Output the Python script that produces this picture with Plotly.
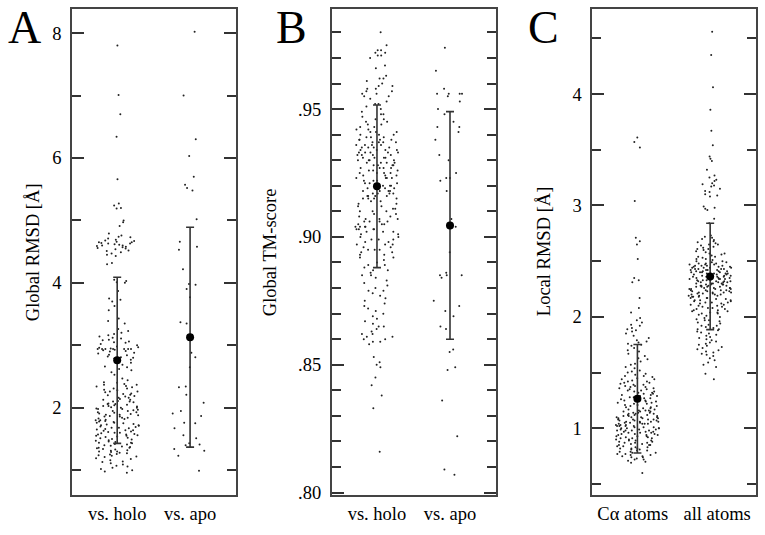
import plotly.graph_objects as go

# ---- data ----
cats_a = ["vs. holo", "vs. apo"]
cats_b = ["vs. holo", "vs. apo"]
cats_c = ["C\u03b1 atoms", "all atoms"]

rmsd_holo = [
    7.80, 7.01, 6.70, 6.34, 5.66, 5.27, 5.24, 5.20, 5.19, 5.00, 4.97, 4.91,
    4.79, 4.76, 4.74, 4.73, 4.71, 4.69, 4.68, 4.67, 4.66, 4.65, 4.65, 4.64, 4.63, 4.63, 4.62,
    4.61, 4.60, 4.60, 4.59, 4.58, 4.57, 4.56, 4.55, 4.54, 4.52, 4.51, 4.49, 4.47, 4.45, 4.43,
    4.32, 4.30, 4.05, 4.03, 4.01, 4.00, 3.87, 3.75, 3.73, 3.70, 3.63, 3.56, 3.43, 3.39, 3.35,
    3.26, 3.23, 3.20, 3.12, 3.09, 3.06, 3.04, 3.18, 3.16, 3.14, 3.11, 3.08, 3.05, 3.02, 3.00,
    2.98, 2.97, 2.96, 2.95, 2.94, 2.94, 2.94, 2.94, 2.94, 2.94, 2.94, 2.93, 2.92, 2.91, 2.90,
    2.88, 2.87, 2.85, 2.84, 2.82, 2.81, 2.80, 2.79, 2.77, 2.73, 2.72, 2.69, 2.66, 2.65, 2.62,
    2.60, 2.57, 2.53, 2.47, 2.44, 2.41, 2.40, 2.38, 2.37, 2.37, 2.35, 2.34, 2.33, 2.31, 2.31,
    2.29, 2.28, 2.26, 2.26, 2.25, 2.23, 2.22, 2.21, 2.20, 2.19, 2.18, 2.16, 2.16, 2.14, 2.13,
    2.13, 2.11, 2.10, 2.10, 2.09, 2.07, 2.06, 2.06, 2.05, 2.04, 2.03, 2.03, 2.02, 2.01, 2.00,
    2.00, 1.99, 1.98, 1.98, 1.97, 1.96, 1.95, 1.95, 1.93, 1.93, 1.92, 1.91, 1.90, 1.89, 1.89,
    1.88, 1.87, 1.86, 1.86, 1.84, 1.84, 1.83, 1.82, 1.81, 1.80, 1.80, 1.79, 1.78, 1.77, 1.76,
    1.76, 1.75, 1.74, 1.73, 1.72, 1.72, 1.71, 1.70, 1.69, 1.68, 1.68, 1.67, 1.66, 1.65, 1.64,
    1.64, 1.63, 1.62, 1.61, 1.60, 1.60, 1.59, 1.58, 1.57, 1.57, 1.56, 1.55, 1.55, 1.54, 1.53,
    1.52, 1.51, 1.50, 1.49, 1.48, 1.47, 1.46, 1.45, 1.44, 1.44, 1.43, 1.42, 1.41, 1.40, 1.39,
    1.38, 1.37, 1.36, 1.36, 1.35, 1.34, 1.33, 1.32, 1.31, 1.30, 1.30, 1.29, 1.28, 1.27, 1.26,
    1.25, 1.24, 1.23, 1.22, 1.21, 1.19, 1.18, 1.16, 1.14, 1.13, 1.11, 1.09, 1.07, 1.06, 1.04,
    1.02, 1.00, 0.98, 0.96,
]
rmsd_apo = [
    8.02, 7.00, 6.30, 6.03, 5.70, 5.57, 5.52, 5.48, 5.02, 4.66, 4.58, 4.53, 4.22, 3.98, 3.97,
    3.90, 3.77, 3.37, 3.35, 2.88, 2.81, 2.65, 2.34, 2.33, 2.21, 2.08, 1.95, 1.91, 1.87, 1.76,
    1.75, 1.67, 1.56, 1.51, 1.43, 1.41, 1.40, 1.34, 1.31, 1.23, 0.99,
]
tm_holo = [
    0.980, 0.975, 0.973, 0.973, 0.972, 0.972, 0.971, 0.971, 0.970, 0.967, 0.966, 0.963, 0.962,
    0.962, 0.961, 0.960, 0.959, 0.959, 0.958, 0.958, 0.957, 0.957, 0.956, 0.956, 0.955, 0.955,
    0.954, 0.953, 0.952, 0.952, 0.951, 0.950, 0.949, 0.948, 0.948, 0.947, 0.946, 0.946, 0.945,
    0.945, 0.944, 0.944, 0.943, 0.943, 0.942, 0.942, 0.941, 0.941, 0.941, 0.940, 0.940, 0.940,
    0.939, 0.939, 0.939, 0.938, 0.938, 0.938, 0.938, 0.937, 0.937, 0.937, 0.937, 0.936, 0.936,
    0.936, 0.936, 0.935, 0.935, 0.935, 0.935, 0.934, 0.934, 0.934, 0.934, 0.933, 0.933, 0.933,
    0.933, 0.933, 0.932, 0.932, 0.932, 0.932, 0.931, 0.931, 0.931, 0.931, 0.930, 0.930, 0.930,
    0.930, 0.929, 0.929, 0.929, 0.929, 0.928, 0.928, 0.928, 0.928, 0.927, 0.927, 0.927, 0.927,
    0.926, 0.926, 0.926, 0.925, 0.925, 0.925, 0.925, 0.924, 0.924, 0.924, 0.923, 0.923, 0.923,
    0.923, 0.922, 0.922, 0.922, 0.921, 0.921, 0.921, 0.920, 0.920, 0.920, 0.919, 0.919, 0.919,
    0.919, 0.918, 0.918, 0.918, 0.918, 0.917, 0.917, 0.917, 0.917, 0.916, 0.916, 0.916, 0.916,
    0.915, 0.915, 0.915, 0.915, 0.914, 0.914, 0.913, 0.913, 0.912, 0.912, 0.911, 0.911, 0.910,
    0.910, 0.910, 0.909, 0.909, 0.908, 0.908, 0.907, 0.907, 0.907, 0.906, 0.906, 0.906, 0.906,
    0.905, 0.905, 0.905, 0.904, 0.904, 0.904, 0.904, 0.903, 0.903, 0.903, 0.903, 0.902, 0.902,
    0.902, 0.901, 0.901, 0.900, 0.900, 0.899, 0.899, 0.899, 0.898, 0.898, 0.897, 0.897, 0.897,
    0.896, 0.896, 0.895, 0.895, 0.895, 0.894, 0.894, 0.893, 0.893, 0.892, 0.892, 0.891, 0.890,
    0.889, 0.889, 0.888, 0.887, 0.887, 0.886, 0.885, 0.885, 0.884, 0.883, 0.882, 0.881, 0.880,
    0.879, 0.879, 0.878, 0.877, 0.876, 0.875, 0.874, 0.873, 0.872, 0.871, 0.870, 0.869, 0.868,
    0.867, 0.866, 0.865, 0.865, 0.864, 0.863, 0.862, 0.862, 0.861, 0.861, 0.860, 0.860, 0.859,
    0.859, 0.858, 0.853, 0.851, 0.850, 0.849, 0.845, 0.842, 0.838, 0.833, 0.816,
]
tm_apo = [
    0.974, 0.965, 0.958, 0.956, 0.956, 0.956, 0.956, 0.955, 0.953, 0.950, 0.948, 0.945, 0.943,
    0.943, 0.941, 0.938, 0.932, 0.930, 0.925, 0.923, 0.923, 0.922, 0.918, 0.907, 0.904, 0.894,
    0.886, 0.885, 0.885, 0.885, 0.884, 0.875, 0.873, 0.871, 0.869, 0.865, 0.864, 0.856, 0.855,
    0.849, 0.848, 0.836, 0.822, 0.809, 0.807,
]
local_ca = [
    3.61, 3.57, 3.52, 3.04, 2.71, 2.68, 2.65, 2.52, 2.35, 2.33, 2.31, 2.17, 2.08, 2.04, 1.99,
    1.97, 1.95, 1.93, 1.92, 1.90, 1.89, 1.88, 1.87, 1.85, 1.83, 1.81, 1.79, 1.78, 1.77, 1.76,
    1.75, 1.74, 1.72, 1.70, 1.69, 1.67, 1.65, 1.63, 1.62, 1.60, 1.58, 1.57, 1.55, 1.54, 1.52,
    1.51, 1.50, 1.49, 1.48, 1.47, 1.47, 1.46, 1.45, 1.44, 1.44, 1.43, 1.42, 1.42, 1.41, 1.41,
    1.40, 1.39, 1.39, 1.38, 1.38, 1.37, 1.37, 1.36, 1.36, 1.35, 1.35, 1.34, 1.34, 1.33, 1.33,
    1.32, 1.32, 1.31, 1.31, 1.30, 1.30, 1.29, 1.29, 1.28, 1.28, 1.27, 1.27, 1.26, 1.26, 1.25,
    1.25, 1.24, 1.24, 1.23, 1.23, 1.22, 1.22, 1.21, 1.21, 1.20, 1.20, 1.19, 1.19, 1.18, 1.18,
    1.17, 1.17, 1.16, 1.16, 1.16, 1.15, 1.15, 1.15, 1.14, 1.14, 1.14, 1.13, 1.13, 1.13, 1.12,
    1.12, 1.12, 1.11, 1.11, 1.11, 1.10, 1.10, 1.10, 1.10, 1.09, 1.09, 1.09, 1.08, 1.08, 1.08,
    1.08, 1.07, 1.07, 1.07, 1.06, 1.06, 1.06, 1.06, 1.05, 1.05, 1.05, 1.04, 1.04, 1.04, 1.04,
    1.03, 1.03, 1.03, 1.02, 1.02, 1.02, 1.02, 1.01, 1.01, 1.01, 1.00, 1.00, 1.00, 1.00, 0.99,
    0.99, 0.99, 0.98, 0.98, 0.98, 0.98, 0.97, 0.97, 0.97, 0.96, 0.96, 0.96, 0.95, 0.95, 0.95,
    0.94, 0.94, 0.94, 0.93, 0.93, 0.93, 0.92, 0.92, 0.91, 0.91, 0.91, 0.90, 0.90, 0.89, 0.89,
    0.89, 0.88, 0.88, 0.87, 0.87, 0.87, 0.86, 0.86, 0.85, 0.85, 0.85, 0.84, 0.84, 0.83, 0.83,
    0.82, 0.82, 0.82, 0.81, 0.81, 0.80, 0.80, 0.79, 0.79, 0.78, 0.78, 0.77, 0.77, 0.76, 0.76,
    0.75, 0.75, 0.74, 0.74, 0.73, 0.72, 0.72, 0.71, 0.70, 0.69, 0.60,
]
local_all = [
    4.56, 4.35, 4.06, 3.86, 3.67, 3.54, 3.44, 3.42, 3.40, 3.32, 3.27, 3.25, 3.23, 3.22, 3.20,
    3.19, 3.18, 3.17, 3.15, 3.13, 3.12, 3.10, 3.09, 3.08, 2.99, 2.98, 2.97, 2.96, 2.88, 2.84,
    2.73, 2.72, 2.71, 2.70, 2.69, 2.68, 2.67, 2.66, 2.65, 2.65, 2.64, 2.63, 2.62, 2.61, 2.61,
    2.60, 2.59, 2.58, 2.57, 2.57, 2.56, 2.55, 2.54, 2.54, 2.53, 2.52, 2.52, 2.51, 2.50, 2.50,
    2.49, 2.49, 2.48, 2.48, 2.48, 2.47, 2.47, 2.47, 2.46, 2.46, 2.46, 2.46, 2.45, 2.45, 2.45,
    2.44, 2.44, 2.44, 2.44, 2.43, 2.43, 2.43, 2.43, 2.42, 2.42, 2.42, 2.42, 2.41, 2.41, 2.41,
    2.41, 2.40, 2.40, 2.40, 2.40, 2.39, 2.39, 2.39, 2.39, 2.38, 2.38, 2.38, 2.38, 2.37, 2.37,
    2.37, 2.37, 2.36, 2.36, 2.36, 2.36, 2.35, 2.35, 2.35, 2.35, 2.34, 2.34, 2.34, 2.34, 2.33,
    2.33, 2.33, 2.33, 2.32, 2.32, 2.32, 2.32, 2.31, 2.31, 2.31, 2.31, 2.30, 2.30, 2.30, 2.30,
    2.29, 2.29, 2.29, 2.29, 2.28, 2.28, 2.28, 2.28, 2.27, 2.27, 2.27, 2.27, 2.26, 2.26, 2.26,
    2.26, 2.25, 2.25, 2.25, 2.25, 2.24, 2.24, 2.24, 2.24, 2.23, 2.23, 2.23, 2.22, 2.22, 2.22,
    2.22, 2.21, 2.21, 2.21, 2.20, 2.20, 2.20, 2.19, 2.19, 2.19, 2.18, 2.18, 2.18, 2.17, 2.17,
    2.17, 2.16, 2.16, 2.15, 2.15, 2.15, 2.14, 2.14, 2.13, 2.13, 2.13, 2.12, 2.12, 2.11, 2.11,
    2.10, 2.10, 2.09, 2.09, 2.08, 2.08, 2.07, 2.07, 2.06, 2.06, 2.05, 2.05, 2.04, 2.04, 2.03,
    2.03, 2.02, 2.01, 2.00, 1.99, 1.98, 1.97, 1.97, 1.96, 1.95, 1.94, 1.93, 1.92, 1.92, 1.91,
    1.90, 1.89, 1.89, 1.88, 1.87, 1.86, 1.85, 1.84, 1.83, 1.82, 1.81, 1.80, 1.79, 1.78, 1.77,
    1.76, 1.75, 1.74, 1.73, 1.72, 1.71, 1.70, 1.69, 1.68, 1.67, 1.66, 1.65, 1.63, 1.61, 1.59,
    1.57, 1.55, 1.49, 1.44,
]

mean_a = [2.76, 3.13]
sd_a = [1.33, 1.76]
mean_b = [0.9198, 0.9045]
sd_b = [0.0318, 0.0445]
mean_c = [1.265, 2.363]
sd_c = [0.487, 0.477]

# ---- layout geometry (px from the top-left of the window) ----
W, H = 765, 535
FONT = "Liberation Serif"
INK = "#333333"
FS = 18.5


def fx(p):
    return p / W


def fy(p):
    return 1 - p / H


fig = go.Figure()

panels = [
    ("", cats_a, [rmsd_holo, rmsd_apo], mean_a, sd_a),
    ("2", cats_b, [tm_holo, tm_apo], mean_b, sd_b),
    ("3", cats_c, [local_ca, local_all], mean_c, sd_c),
]

for ax, cats, groups, means, sds in panels:
    for cat, vals in zip(cats, groups):
        fig.add_trace(go.Box(
            y=vals, name=cat, xaxis="x" + ax, yaxis="y" + ax,
            boxpoints="all", jitter=1.0, pointpos=0,
            line=dict(width=0), fillcolor="rgba(0,0,0,0)",
            marker=dict(size=2, color="#222222"),
            hoveron="points",
        ))
    fig.add_trace(go.Scatter(
        x=cats, y=means, mode="markers", xaxis="x" + ax, yaxis="y" + ax,
        marker=dict(size=8, color="black"),
        error_y=dict(type="data", array=sds, visible=True,
                     color=INK, thickness=1.6, width=4),
    ))

xdoms = [[72, 236], [331.7, 496], [592.3, 756]]
yranges = [[0.6, 8.38], [0.799, 0.989], [0.40, 4.76]]
ydom = [fy(502.7), fy(9.5)]

major = [
    dict(tickvals=[2, 4, 6, 8], ticktext=["2", "4", "6", "8"]),
    dict(tickvals=[0.80, 0.85, 0.90, 0.95], ticktext=[".80", ".85", ".90", ".95"]),
    dict(tickvals=[1, 2, 3, 4], ticktext=["1", "2", "3", "4"]),
]
minor = [
    dict(dtick=1, tick0=0),
    dict(dtick=0.01, tick0=0.8),
    dict(dtick=0.5, tick0=0),
]
# x category labels (the C labels sit a little apart in the original)
xticktext = [
    cats_a,
    cats_b,
    [cats_c[0] + "\u00a0\u00a0", "\u00a0\u00a0\u00a0" + cats_c[1]],
]

layout = dict(
    width=W, height=H, margin=dict(l=0, r=0, t=0, b=0),
    paper_bgcolor="white", plot_bgcolor="white",
    showlegend=False, boxgap=0.15, boxmode="overlay",
    font=dict(family=FONT, size=FS, color="black"),
)

for i, ax in enumerate(["", "2", "3"]):
    cats = panels[i][1]
    layout["xaxis" + ax] = dict(
        domain=[fx(xdoms[i][0]), fx(xdoms[i][1])], anchor="y" + ax,
        type="category", categoryorder="array", categoryarray=cats,
        tickmode="array", tickvals=cats, ticktext=xticktext[i], tickangle=0,
        range=[-0.62, 1.63], showgrid=False, zeroline=False,
        showline=True, mirror=True, linecolor="#444444", linewidth=1.6,
        ticks="", ticklabelstandoff=1, tickfont=dict(size=FS, family=FONT),
    )
    layout["yaxis" + ax] = dict(
        domain=ydom, anchor="x" + ax, range=yranges[i],
        showgrid=False, zeroline=False,
        showline=True, mirror="ticks", linecolor="#444444", linewidth=1.6,
        ticks="inside", ticklen=12, tickwidth=1.5, tickcolor=INK,
        tickmode="array", ticklabelstandoff=5,
        tickfont=dict(size=FS, family=FONT),
        minor=dict(ticks="inside", ticklen=9, tickwidth=1.5, tickcolor=INK,
                   showgrid=False, **minor[i]),
        **major[i],
    )

fig.update_layout(**layout)

ytitles = [("Global RMSD [\u00c5]", 33), ("Global TM-score", 270), ("Local RMSD [\u00c5]", 544)]
for text, xc in ytitles:
    fig.add_annotation(text=text, x=fx(xc), y=fy(256), xref="paper", yref="paper",
                       textangle=-90, showarrow=False, xanchor="center", yanchor="middle",
                       font=dict(family=FONT, size=FS, color="black"))

for text, xl in [("A", 5.5), ("B", 274), ("C", 526)]:
    fig.add_annotation(text=text, x=fx(xl), y=1, xref="paper", yref="paper",
                       showarrow=False, xanchor="left", yanchor="top",
                       font=dict(family=FONT, size=46, color="black"))

# drop the page's default body margin so the figure sits at the window corner
fig.write_html("out.html", config={"displayModeBar": False},
               post_script="document.body.style.margin = '0';")
